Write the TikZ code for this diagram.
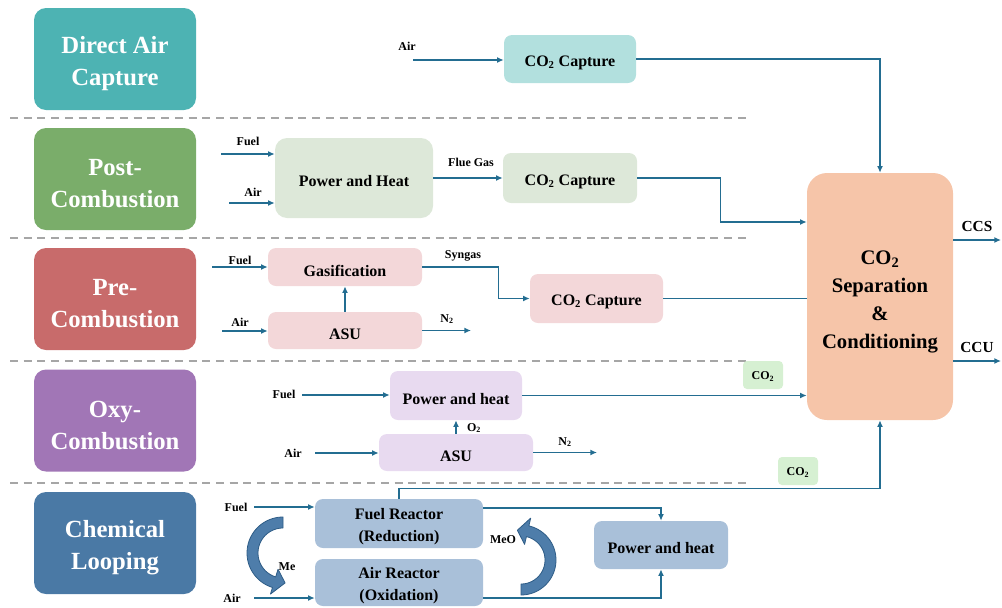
\documentclass[tikz,border=0pt]{standalone}
\usepackage{fontspec}
\setmainfont{Liberation Serif}
\usetikzlibrary{arrows.meta,calc}
\definecolor{dacC}{HTML}{4DB3B3}
\definecolor{postC}{HTML}{7AAD6A}
\definecolor{preC}{HTML}{C86B6B}
\definecolor{oxyC}{HTML}{A176B6}
\definecolor{clC}{HTML}{4A79A5}
\definecolor{dacL}{HTML}{B2E0DE}
\definecolor{postL}{HTML}{DDE8D9}
\definecolor{preL}{HTML}{F3D7D9}
\definecolor{oxyL}{HTML}{E8DAF0}
\definecolor{clL}{HTML}{A9C0D9}
\definecolor{sepC}{HTML}{F6C5A9}
\definecolor{tagC}{HTML}{D6F0D2}
\definecolor{flowC}{HTML}{236D91}
\definecolor{dashC}{HTML}{A6A6A6}
\definecolor{curvF}{HTML}{4E7DAA}
\definecolor{curvD}{HTML}{2E5C86}
% shape node + shifted text node
\newcommand\bnode[5]{%
  \node[#1] (#2) at (#3) {};
  \node[#4] (#2-t) at (#2.center) {#5};}
\begin{document}
\begin{tikzpicture}[x=0.75pt,y=-0.75pt,
  cat/.style={rounded corners=9pt, inner sep=0pt, minimum width=121.5pt, minimum height=76.5pt},
  cattxt/.style={text=white, font=\fontsize{18.5}{24}\selectfont\bfseries, align=center, inner sep=0pt, yshift=-3.4pt},
  box/.style={rounded corners=6pt, inner sep=0pt},
  btxt/.style={font=\fontsize{12}{16.5}\selectfont\bfseries, align=center, inner sep=0pt, yshift=-2.6pt},
  septxt/.style={font=\fontsize{15.5}{21}\selectfont\bfseries, align=center, inner sep=0pt, yshift=-4pt},
  tagtxt/.style={font=\fontsize{9}{10}\selectfont\bfseries, inner sep=0pt, yshift=-1.2pt},
  sz/.style 2 args={minimum width=#1*0.75pt, minimum height=#2*0.75pt},
  lbl/.style={font=\fontsize{9}{10}\selectfont\bfseries, inner sep=0pt},
  big/.style={font=\fontsize{11.5}{12}\selectfont\bfseries, inner sep=0pt},
  flow/.style={draw=flowC, line width=1.1pt, -{Latex[length=5pt,width=4.5pt]}},
  plain/.style={draw=flowC, line width=1.1pt},
  sepline/.style={draw=dashC, line width=1.1pt, dash pattern=on 6pt off 4.3pt},
  curv/.style={fill=curvF, draw=curvD, line width=0.6pt, line join=round}
]
\useasboundingbox (0,0) rectangle (1002,607);

% separators
\draw[sepline] (10,118) -- (750,118);
\draw[sepline] (10,238) -- (750,238);
\draw[sepline] (10,361) -- (750,361);
\draw[sepline] (10,483) -- (750,483);

% categories
\bnode{cat, fill=dacC}{dac}{115,59}{cattxt}{Direct Air\\Capture}
\bnode{cat, fill=postC}{post}{115,179}{cattxt}{Post-\\Combustion}
\bnode{cat, fill=preC}{pre}{115,299}{cattxt}{Pre-\\Combustion}
\bnode{cat, fill=oxyC}{oxy}{115,420.5}{cattxt}{Oxy-\\Combustion}
\bnode{cat, fill=clC}{cl}{115,543}{cattxt}{Chemical\\Looping}

% process boxes
\bnode{box, fill=dacL, sz={132}{48}}{dacCap}{570,59}{btxt}{CO\textsubscript{2} Capture}
\bnode{box, fill=postL, sz={158}{80}, rounded corners=9pt}{postPH}{354,178}{btxt}{Power and Heat}
\bnode{box, fill=postL, sz={134}{50}}{postCap}{570,178}{btxt}{CO\textsubscript{2} Capture}
\bnode{box, fill=preL, sz={154}{38}}{gas}{345,267}{btxt}{Gasification}
\bnode{box, fill=preL, sz={154}{37}}{preASU}{345,330.5}{btxt}{ASU}
\bnode{box, fill=preL, sz={133}{49}}{preCap}{596.5,298.5}{btxt}{CO\textsubscript{2} Capture}
\bnode{box, fill=oxyL, sz={132}{49}}{oxyPH}{456,395.5}{btxt}{Power and heat}
\bnode{box, fill=oxyL, sz={154}{37}}{oxyASU}{456,452.5}{btxt}{ASU}
\bnode{box, fill=clL, sz={168}{49}}{fuelR}{399,523.5}{btxt}{Fuel Reactor\\(Reduction)}
\bnode{box, fill=clL, sz={168}{47}}{airR}{399,582.5}{btxt}{Air Reactor\\(Oxidation)}
\bnode{box, fill=clL, sz={134}{48}}{clPH}{661,545}{btxt}{Power and heat}
\bnode{box, fill=sepC, sz={146}{247}, rounded corners=15pt}{sep}{880,296.5}{septxt}{CO\textsubscript{2}\\Separation\\\&\\Conditioning}
\bnode{box, fill=tagC, sz={40}{28}, rounded corners=3pt}{tag1}{763,375}{tagtxt}{CO\textsubscript{2}}
\bnode{box, fill=tagC, sz={40}{28}, rounded corners=3pt}{tag2}{798,471}{tagtxt}{CO\textsubscript{2}}

% free ends
\coordinate (dacAirS) at (413,60);
\coordinate (postFuelS) at (221,154);
\coordinate (postAirS) at (229,203);
\coordinate (preFuelS) at (212,267);
\coordinate (preAirS) at (222,331);
\coordinate (preN2E) at (471,331);
\coordinate (oxyFuelS) at (302,395);
\coordinate (oxyAirS) at (315,453);
\coordinate (oxyN2E) at (597,453);
\coordinate (clFuelS) at (254,507);
\coordinate (clAirS) at (254,598);
\coordinate (ccsE) at (1001,240);
\coordinate (ccuE) at (1001,361);

% connectors
\draw[flow] (dacAirS) -- (dacCap.west |- dacAirS);
\draw[flow] (dacCap.east) -| (sep.north);
\draw[flow] (postFuelS) -- (postPH.west |- postFuelS);
\draw[flow] (postAirS) -- (postPH.west |- postAirS);
\draw[flow] (postPH.east) -- (postCap.west);
\draw[flow] (postCap.east) -| ++(83,44) -- (sep.west |- 0,222);
\draw[flow] (preFuelS) -- (gas.west |- preFuelS);
\draw[flow] (preAirS) -- (preASU.west |- preAirS);
\draw[flow] (preASU.north) -- (gas.south);
\draw[flow] (preASU.east) -- (preN2E |- preASU.east);
\draw[flow] (gas.east) -- ++(76,0) |- (preCap.west);
\draw[plain] (preCap.east) -- (sep.west |- preCap.east);
\draw[flow] (oxyFuelS) -- (oxyPH.west |- oxyFuelS);
\draw[flow] (oxyPH.east) -- (sep.west |- oxyPH.east);
\draw[flow] (oxyAirS) -- (oxyASU.west |- oxyAirS);
\draw[flow] (oxyASU.north) -- (oxyPH.south);
\draw[flow] (oxyASU.east) -- (oxyN2E |- oxyASU.east);
\draw[flow] (clFuelS) -- (fuelR.west |- clFuelS);
\draw[flow] (clAirS) -- (airR.west |- clAirS);
\draw[flow] (fuelR.north) -- ++(0,-10) -| (sep.south);
\draw[flow] (fuelR.east |- 0,508) -| (clPH.north);
\draw[flow] (airR.east |- 0,598) -| (clPH.south);
\draw[flow] (sep.east |- ccsE) -- (ccsE);
\draw[flow] (sep.east |- ccuE) -- (ccuE);

% curved block arrows
\path[curv] plot[domain=270:107, samples=40] ({283+36*cos(\x)},{553+36*sin(\x)})
  -- ({283+43*cos(107)},{553+43*sin(107)})
  -- ({283+30*cos(86)},{553+30*sin(86)})
  -- ({283+17*cos(107)},{553+17*sin(107)})
  -- plot[domain=107:270, samples=40] ({283+25*cos(\x)},{553+25*sin(\x)}) -- cycle;
\path[curv] plot[domain=90:-77, samples=40] ({521+35*cos(\x)},{560+35*sin(\x)})
  -- ({521+43*cos(-77)},{560+43*sin(-77)})
  -- ({521+30*cos(-97)},{560+30*sin(-97)})
  -- ({521+16*cos(-77)},{560+16*sin(-77)})
  -- plot[domain=-77:90, samples=40] ({521+24*cos(\x)},{560+24*sin(\x)}) -- cycle;

% labels
\node[lbl] (lA1) at (407,46) {Air};
\node[lbl] (lF2) at (248,141) {Fuel};
\node[lbl] (lA2) at (253,192) {Air};
\node[lbl] (lFG) at (471,162) {Flue Gas};
\node[lbl] (lF3) at (240,260) {Fuel};
\node[lbl] (lA3) at (240,322) {Air};
\node[lbl] (lSy) at (463,256) {Syngas};
\node[lbl] (lN3) at (447,319) {N\textsubscript{2}};
\node[lbl] (lF4) at (284,394) {Fuel};
\node[lbl] (lA4) at (293,453) {Air};
\node[lbl] (lO4) at (474,428) {O\textsubscript{2}};
\node[lbl] (lN4) at (565,442) {N\textsubscript{2}};
\node[lbl] (lF5) at (236,507) {Fuel};
\node[lbl] (lA5) at (232,598) {Air};
\node[lbl] (lMe) at (287,567) {Me};
\node[lbl] (lMeO) at (503,540) {MeO};
\node[big] (lCCS) at (977,226) {CCS};
\node[big] (lCCU) at (977,347) {CCU};
\end{tikzpicture}
\end{document}
